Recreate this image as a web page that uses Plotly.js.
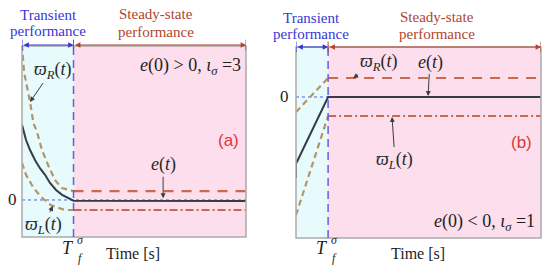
<!DOCTYPE html>
<html>
<head>
<meta charset="utf-8">
<script src="https://cdn.plot.ly/plotly-3.0.1.min.js"></script>
<style>body{margin:0;background:#fff}</style>
</head>
<body>
<div id="chart" style="width:550px;height:270px"></div>
<script>
// panel (a): e(0) > 0, iota = 3
const tfA = 2.3;
const tUpperA = [0, 0.09, 0.36, 0.51, 0.67, 0.89, 1.16, 1.47, 1.79, 2.05, 2.3];
const upperA = [4.19, 3.46, 2.65, 2.08, 1.84, 1.35, 0.95, 0.54, 0.32, 0.27, 0.24];
const tLowerA = [0, 0.18, 0.49, 0.85, 1.29, 1.92, 2.3];
const lowerA = [1.0, 0.68, 0.35, 0.08, -0.14, -0.27, -0.27];
const tErrA = [0, 0.18, 0.36, 0.58, 0.8, 1.03, 1.25, 1.52, 1.79, 2.05, 2.3, 10];
const errA = [2.03, 1.62, 1.35, 1.08, 0.86, 0.68, 0.46, 0.27, 0.14, 0.05, -0.02, -0.03];
const upperSteadyA = [0.24, 0.24];
const lowerSteadyA = [-0.27, -0.27];

// panel (b): e(0) < 0, iota = 1
const tfB = 1.31;
const tUpperB = [0, 1.31];
const upperB = [-0.79, 1.0];
const tLowerB = [0, 1.31];
const lowerB = [-6.21, -1.0];
const tErrB = [0, 0, 0.08, 1.31, 10];
const errB = [-4.26, -3.5, -3.3, 0, 0];
const upperSteadyB = [1.0, 1.0];
const lowerSteadyB = [-1.0, -1.0];

const tEnd = 10;
const serif = "'Liberation Serif', 'DejaVu Serif', serif";
const cyanBg = 'rgb(231,250,252)';
const pinkBg = 'rgb(253,222,236)';
const tan = 'rgb(182,148,100)';
const rust = 'rgb(200,105,80)';
const dark = 'rgb(52,60,70)';
const blue = 'rgb(55,55,215)';
const brown = 'rgb(175,70,45)';

function line(x, y, xa, ya, color, width, dash) {
    return {x: x, y: y, xaxis: xa, yaxis: ya, mode: 'lines', hoverinfo: 'skip',
        showlegend: false, line: {color: color, width: width, dash: dash}};
}

const data = [
    line([0, tEnd], [0, 0], 'x', 'y', 'rgb(80,95,240)', 1, 'dot'),
    line(tUpperA, upperA, 'x', 'y', tan, 2.2, '6px,4px'),
    line(tLowerA, lowerA, 'x', 'y', tan, 2.2, '6px,4px'),
    line([tfA, tEnd], upperSteadyA, 'x', 'y', rust, 2.2, '10px,8px'),
    line([tfA, tEnd], lowerSteadyA, 'x', 'y', rust, 2.2, '8px,3px,2px,3px'),
    line(tErrA, errA, 'x', 'y', dark, 2, 'solid'),

    line([0, tEnd], [0, 0], 'x2', 'y2', 'rgb(80,95,240)', 1, 'dot'),
    line(tUpperB, upperB, 'x2', 'y2', tan, 2.2, '6px,4px'),
    line(tLowerB, lowerB, 'x2', 'y2', tan, 2.2, '6px,4px'),
    line([tfB, tEnd], upperSteadyB, 'x2', 'y2', rust, 2.2, '10px,8px'),
    line([tfB, tEnd], lowerSteadyB, 'x2', 'y2', rust, 2.2, '8px,3px,2px,3px'),
    line(tErrB, errB, 'x2', 'y2', dark, 2, 'solid')
];

// background bands, box, T_f line, top arrow caps
function panelShapes(xa, ya, tf, capY) {
    const xd = xa + ' domain', yd = ya + ' domain';
    return [
        {type: 'rect', xref: xa, yref: yd, x0: 0, x1: tf, y0: 0, y1: 1, fillcolor: cyanBg, line: {width: 0}, layer: 'below'},
        {type: 'rect', xref: xa, yref: yd, x0: tf, x1: tEnd, y0: 0, y1: 1, fillcolor: pinkBg, line: {width: 0}, layer: 'below'},
        {type: 'rect', xref: xd, yref: yd, x0: 0, x1: 1, y0: 0, y1: 1, line: {color: 'rgb(170,170,170)', width: 1.5}},
        {type: 'line', xref: xa, yref: yd, x0: tf, x1: tf, y0: 0, y1: 1, line: {color: 'rgb(100,95,225)', width: 1.5, dash: '8px,5px'}},
        {type: 'line', xref: xa, yref: 'paper', x0: 0, x1: 0, y0: capY - 0.02, y1: capY + 0.02, line: {color: blue, width: 1}},
        {type: 'line', xref: xa, yref: 'paper', x0: tf, x1: tf, y0: capY - 0.02, y1: capY + 0.02, line: {color: brown, width: 1}},
        {type: 'line', xref: xa, yref: 'paper', x0: tEnd, x1: tEnd, y0: capY - 0.02, y1: capY + 0.02, line: {color: brown, width: 1}}
    ];
}

function text(xref, yref, x, y, str, size, color, extra) {
    return Object.assign({xref: xref, yref: yref, x: x, y: y, text: str, showarrow: false,
        xanchor: 'center', yanchor: 'middle',
        font: {family: serif, size: size, color: color}}, extra || {});
}

function pointer(xa, ya, x, y, ax, ay, str, size) {
    return {xref: xa, yref: ya, axref: xa, ayref: ya, x: x, y: y, ax: ax, ay: ay, text: str,
        showarrow: true, arrowhead: 2, arrowsize: 1, arrowwidth: 1, arrowcolor: 'rgb(60,60,60)',
        font: {family: serif, size: size, color: 'rgb(40,40,40)'}};
}

function spanArrow(xa, x0, x1, y, color) {
    return {xref: xa, yref: 'paper', axref: xa, ayref: 'pixel', x: x1, y: y, ax: x0, ay: 0, text: '',
        showarrow: true, arrowside: 'end+start', arrowhead: 2, arrowsize: 0.9, arrowwidth: 1.2,
        arrowcolor: color, standoff: 0, startstandoff: 0};
}

function tf(xa, x) {
    return [
        text(xa, 'paper', x, 1 - 248 / 270, '<i>T</i>', 18, 'rgb(30,30,30)', {xanchor: 'right', xshift: 2}),
        text(xa, 'paper', x, 1 - 240 / 270, '<i>σ</i>', 12, 'rgb(30,30,30)', {xanchor: 'left', xshift: 1}),
        text(xa, 'paper', x, 1 - 258 / 270, '<i>f</i>', 12, 'rgb(30,30,30)', {xanchor: 'left', xshift: 2})
    ];
}

const wR = '<i>ϖ</i><sub><i>R</i></sub>(<i>t</i>)';
const wL = '<i>ϖ</i><sub><i>L</i></sub>(<i>t</i>)';
const eT = '<i>e</i>(<i>t</i>)';
const sans = "'Liberation Sans', Arial, sans-serif";

const annotations = [
    // panel (a)
    text('paper', 'paper', 48 / 550, 1 - 15 / 270, 'Transient', 15, blue),
    text('paper', 'paper', 48 / 550, 1 - 31 / 270, 'performance', 15, blue),
    text('paper', 'paper', 156 / 550, 1 - 14 / 270, 'Steady-state', 15, brown),
    text('paper', 'paper', 156 / 550, 1 - 32 / 270, 'performance', 15, brown),
    spanArrow('x', 0, tfA, 1 - 45 / 270, blue),
    spanArrow('x', tfA, tEnd, 1 - 45 / 270, brown),
    pointer('x', 'y', 0.36, 2.65, 1.34, 3.51, wR, 18),
    pointer('x', 'y', 6.3, 0.05, 6.3, 0.95, eT, 18),
    pointer('x', 'y', 1.38, -0.16, 0.95, -0.68, wL, 18),
    text('x', 'y', 9.85, 3.6, '<i>e</i>(0) > 0, <i>ι</i><sub><i>σ</i></sub> =3', 18, 'rgb(30,30,30)', {xanchor: 'right'}),
    text('x', 'y', 9.2, 1.6, '(a)', 17, 'rgb(230,50,60)', {font: {family: sans, size: 17, color: 'rgb(230,50,60)'}}),
    text('paper', 'y', 12 / 550, 0, '0', 17, 'rgb(30,30,30)'),
    text('paper', 'paper', 133 / 550, 1 - 253 / 270, 'Time [s]', 16, 'rgb(30,30,30)'),
    ...tf('x', tfA),

    // panel (b)
    text('paper', 'paper', 311 / 550, 1 - 18 / 270, 'Transient', 15, blue),
    text('paper', 'paper', 311 / 550, 1 - 34 / 270, 'performance', 15, blue),
    text('paper', 'paper', 437 / 550, 1 - 17 / 270, 'Steady-state', 15, brown),
    text('paper', 'paper', 437 / 550, 1 - 34 / 270, 'performance', 15, brown),
    spanArrow('x2', 0, tfB, 1 - 47 / 270, blue),
    spanArrow('x2', tfB, tEnd, 1 - 47 / 270, brown),
    pointer('x2', 'y2', 2.33, 1.0, 3.35, 1.84, wR, 18),
    pointer('x2', 'y2', 5.39, 0.05, 5.47, 1.84, eT, 18),
    pointer('x2', 'y2', 3.92, -1.05, 4.04, -3.32, wL, 18),
    text('x2', 'y2', 9.85, -6.6, '<i>e</i>(0) < 0, <i>ι</i><sub><i>σ</i></sub> =1', 18, 'rgb(30,30,30)', {xanchor: 'right'}),
    text('x2', 'y2', 9.2, -2.4, '(b)', 17, 'rgb(215,60,60)', {font: {family: sans, size: 17, color: 'rgb(215,60,60)'}}),
    text('paper', 'y2', 284 / 550, 0, '0', 17, 'rgb(30,30,30)'),
    text('paper', 'paper', 418 / 550, 1 - 253 / 270, 'Time [s]', 16, 'rgb(30,30,30)'),
    ...tf('x2', tfB)
];

const hidden = {showgrid: false, zeroline: false, showticklabels: false, ticks: '', showline: false, fixedrange: true};

const layout = {
    width: 550,
    height: 270,
    margin: {l: 0, r: 0, t: 0, b: 0},
    paper_bgcolor: 'white',
    plot_bgcolor: 'rgba(0,0,0,0)',
    showlegend: false,
    font: {family: serif},
    xaxis: Object.assign({domain: [22 / 550, 246 / 550], range: [0, tEnd], anchor: 'y'}, hidden),
    yaxis: Object.assign({domain: [33 / 270, 224 / 270], range: [-1, 4.16], anchor: 'x'}, hidden),
    xaxis2: Object.assign({domain: [296 / 550, 541 / 550], range: [0, tEnd], anchor: 'y2'}, hidden),
    yaxis2: Object.assign({domain: [32 / 270, 223 / 270], range: [-7.42, 2.63], anchor: 'x2'}, hidden),
    shapes: [...panelShapes('x', 'y', tfA, 1 - 45 / 270), ...panelShapes('x2', 'y2', tfB, 1 - 47 / 270)],
    annotations: annotations
};

Plotly.newPlot('chart', data, layout, {staticPlot: true, displayModeBar: false});
</script>
</body>
</html>
